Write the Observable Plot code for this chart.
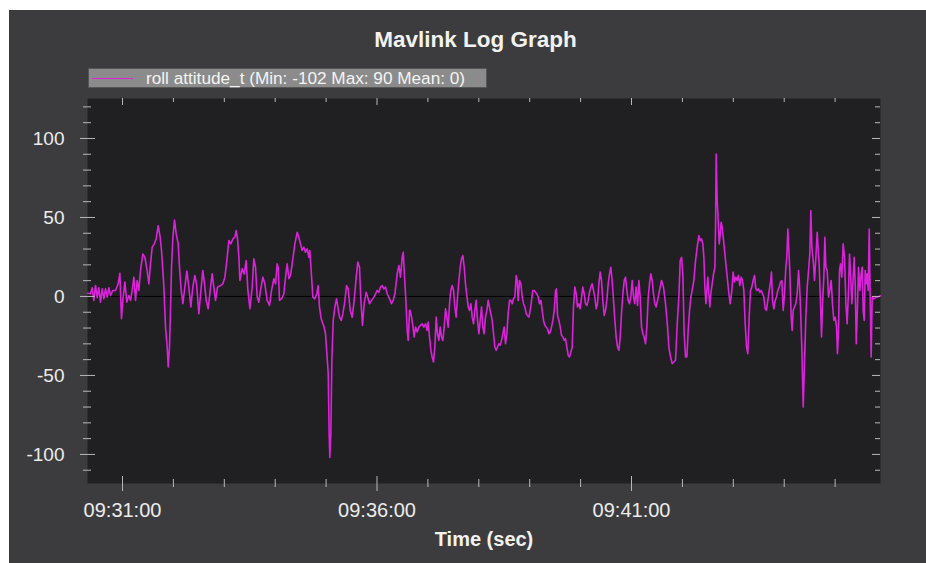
<!DOCTYPE html>
<html><head><meta charset="utf-8">
<script src="https://cdn.jsdelivr.net/npm/d3@7"></script>
<script src="https://cdn.jsdelivr.net/npm/@observablehq/plot@0.6"></script>
<style>
html,body{margin:0;padding:0;background:#fff;}
body{width:926px;height:563px;position:relative;overflow:hidden;font-family:"Liberation Sans",Arial,sans-serif;}
#bg{position:absolute;left:9px;top:10px;width:917px;height:553px;background:#3c3c3e;}
#title{position:absolute;left:17px;top:28px;width:917px;text-align:center;font-size:22.5px;font-weight:bold;line-height:24px;color:#f2f2f2;}
#legend{position:absolute;left:88px;top:68px;width:399px;height:20px;box-sizing:border-box;background:#8b8b8b;border:1px solid #555;}
#legend .swatch{position:absolute;left:3px;top:8.5px;width:41px;height:1.5px;background:#dd22dd;}
#legend .label{position:absolute;left:57px;top:0;line-height:18px;font-size:17.2px;color:#f4f4f4;white-space:nowrap;}
#chart{position:absolute;left:9px;top:90px;}
</style>
</head>
<body>
<div id="bg"></div>
<div id="title"></div>
<div id="legend"><div class="swatch"></div><div class="label"></div></div>
<div id="chart"></div>
<script>
const chartTitle = "Mavlink Log Graph";
const seriesName = "roll attitude_t";
const seriesStats = {min: -102, max: 90, mean: 0};
const xAxisLabel = "Time (sec)";
const xMajorLabels = ["09:31:00", "09:36:00", "09:41:00"];
const xMinorLabels = ["09:32:00","09:33:00","09:34:00","09:35:00","09:37:00","09:38:00","09:39:00","09:40:00","09:42:00","09:43:00","09:44:00","09:45:00"];
const yMajor = [-100, -50, 0, 50, 100];
const yMinor = [-110,-90,-80,-70,-60,-40,-30,-20,-10,10,20,30,40,60,70,80,90,110,120];
const timeStart = "09:30:00";
const xDomainSec = [18.75, 953.5];
const yDomain = [-118.4, 125.3];
// [seconds after 09:30:00, roll in degrees]
const rollSeries = [
[19.0,2.0],[22.3,1.7],[24.3,5.5],[26.2,-2.5],[28.2,6.9],[30.2,-0.8],[32.1,5.5],[34.1,-3.6],[36.1,4.8],[38.0,-1.5],[40.0,4.8],[42.0,-0.4],[43.9,5.5],[45.9,0.6],[48.6,3.8],[51.8,3.8],[54.9,8.0],[56.9,14.7],[58.8,-14.1],[60.4,-2.5],[62.8,9.1],[65.1,-3.6],[67.5,0.6],[69.5,-2.5],[71.4,3.8],[73.4,12.2],[75.4,-2.5],[77.3,10.1],[79.3,3.8],[81.2,16.4],[84.0,26.9],[86.4,24.8],[89.1,16.4],[91.1,8.0],[93.0,20.6],[95.0,31.2],[97.4,33.3],[99.7,36.4],[102.1,44.8],[104.4,37.5],[106.0,29.1],[108.8,5.9],[110.7,-19.4],[112.7,-32.0],[113.9,-44.6],[115.4,-32.0],[116.6,-8.8],[117.8,18.5],[119.4,37.5],[121.3,48.4],[123.3,39.6],[125.7,33.3],[127.2,18.5],[129.2,3.8],[131.2,-4.6],[133.5,5.9],[135.9,16.0],[138.2,5.9],[140.6,-6.7],[142.9,5.9],[145.3,13.3],[147.3,8.0],[150.0,-10.9],[152.4,3.8],[154.7,16.4],[156.7,8.0],[158.7,-2.5],[161.0,-7.8],[163.8,5.9],[165.7,14.3],[168.1,3.8],[169.7,-2.5],[172.0,5.9],[175.6,6.9],[178.3,8.0],[180.7,12.2],[183.0,22.7],[185.4,35.4],[187.7,33.3],[190.1,36.4],[192.5,37.5],[194.0,41.7],[195.6,36.4],[197.2,24.8],[198.4,10.1],[201.1,17.5],[203.5,14.3],[205.8,22.7],[207.8,3.8],[210.2,-7.8],
[212.9,5.9],[214.8,23.8],[216.8,18.5],[218.8,-0.4],[220.7,-3.6],[222.7,3.8],[225.4,12.2],[227.8,8.0],[230.5,-2.5],[233.3,-5.7],[235.7,3.8],[238.4,11.2],[240.4,8.0],[242.3,20.6],[243.5,18.5],[245.1,-2.5],[247.4,-1.5],[250.2,1.7],[252.2,12.2],[254.1,20.6],[256.1,11.2],[258.1,13.3],[260.8,23.8],[263.2,33.3],[265.9,40.6],[267.9,37.5],[269.8,33.3],[271.8,29.1],[273.8,31.2],[275.7,28.0],[277.7,30.1],[279.7,24.8],[280.8,29.1],[282.4,16.4],[284.4,-0.4],[286.7,-1.5],[289.1,1.7],[290.7,6.9],[292.2,-6.7],[294.2,-14.1],[296.2,-17.3],[297.7,-19.4],[299.3,-23.6],[300.9,-36.2],[302.5,-48.8],[303.6,-86.7],[304.4,-101.9],[305.6,-86.7],[306.8,-40.4],[308.4,-15.2],[310.3,-6.7],[312.3,-1.5],[313.9,-6.7],[315.8,-13.1],[317.8,-15.2],[319.8,-10.9],[321.7,-4.6],[324.1,6.9],[326.0,4.8],[328.4,-8.8],[330.8,-13.1],[333.1,-2.5],[335.5,12.2],[337.4,21.7],[339.4,18.5],[341.0,-2.5],[342.9,-18.3],[344.9,-4.6],[347.3,2.7],[349.6,-1.5],[351.2,-4.6],[353.6,-2.5],[356.3,-0.4],[358.3,1.7],[360.2,3.8],[362.2,2.7],[364.2,5.9],[366.1,6.9],[368.1,4.8],[370.1,5.9],[372.0,1.7],[374.8,-1.5],[377.1,-4.6],[379.1,-2.5],[381.1,1.7],[383.8,14.3],[385.8,19.6],[387.7,12.2],[389.7,24.8],[390.9,28.0],[392.5,12.2],[394.0,-2.5],[395.6,-21.5],[396.8,-27.8],[398.4,-8.8],
[399.1,-8.8],[400.7,-13.1],[402.2,-18.3],[403.8,-25.7],[405.4,-19.4],[407.4,-22.5],[409.3,-19.4],[411.3,-18.3],[413.3,-17.3],[415.2,-19.4],[417.2,-17.3],[419.1,-21.5],[420.3,-16.2],[421.9,-25.7],[423.5,-34.1],[425.0,-38.3],[426.6,-41.5],[428.2,-32.0],[429.8,-13.1],[431.3,-23.6],[432.9,-27.8],[434.5,-19.4],[436.0,-25.7],[437.6,-27.8],[439.2,-19.4],[440.8,-7.8],[442.3,-13.1],[443.9,-19.4],[445.5,-4.6],[447.0,3.8],[448.6,6.9],[450.2,3.8],[451.8,-6.7],[453.3,-13.1],[454.9,-0.4],[456.5,10.1],[458.1,18.5],[459.6,23.8],[461.2,25.9],[462.8,18.5],[464.3,8.0],[465.9,0.6],[467.5,-6.7],[469.1,-8.8],[470.6,-4.6],[472.2,-13.1],[473.8,-17.3],[475.3,-8.8],[476.9,-2.5],[478.5,-15.2],[480.1,-23.6],[481.6,-15.2],[483.2,-6.7],[484.8,-19.4],[486.3,-23.6],[487.9,-13.1],[489.5,-8.8],[491.1,-2.5],[492.6,-6.7],[494.2,-10.9],[495.8,-15.2],[497.4,-23.6],[498.9,-32.0],[500.5,-34.1],[502.1,-32.0],[503.6,-29.9],[505.2,-30.9],[506.8,-27.8],[508.4,-23.6],[509.9,-19.4],[511.5,-29.9],[513.1,-23.6],[514.6,-10.9],[516.2,-2.5],[517.8,-2.5],[519.4,-4.6],[520.9,-1.5],[522.5,-0.4],[524.1,13.3],[525.3,10.1],[526.4,-2.5],[528.0,10.1],[529.6,8.0],[531.2,-0.4],[532.7,-4.6],[534.3,-6.7],[535.9,-10.9],[537.4,-12.0],[539.0,-13.1],[540.6,-8.8],[542.2,-2.5],[543.7,3.8],[545.3,3.8],[546.9,2.7],[548.4,1.7],[550.0,-0.4],[551.6,-4.6],[553.2,-2.5],[554.7,-8.8],[556.3,-15.2],[557.9,-18.3],[559.4,-19.4],[561.0,-20.4],[562.6,-23.6],[564.2,-22.5],[565.7,-19.4],[567.3,-15.2],[568.9,-8.8],[570.5,3.8],[571.6,4.8],[572.8,-12.0],[574.4,-15.2],[576.0,-19.4],[577.5,-24.6],[579.1,-25.7],[580.7,-27.8],[582.2,-26.7],[583.8,-32.0],[585.4,-37.3],[586.9,-38.3],
[588.1,-36.2],[590.1,-32.0],[591.6,-6.7],[593.2,5.9],[594.8,1.7],[596.3,-6.7],[597.9,-4.6],[599.5,-7.8],[601.1,-0.4],[602.6,5.9],[604.2,1.7],[605.8,-4.6],[607.4,-5.7],[608.9,-2.5],[610.5,2.7],[612.1,5.9],[613.6,8.0],[615.2,3.8],[616.8,-0.4],[618.4,-7.8],[619.9,-4.6],[621.5,8.0],[623.1,15.4],[624.6,10.1],[626.2,-2.5],[627.8,-12.0],[629.4,-8.8],[630.9,-2.5],[632.5,8.0],[634.1,14.3],[635.6,18.5],[637.2,10.1],[638.8,-2.5],[640.4,-15.2],[641.9,-25.7],[643.5,-32.0],[645.1,-34.1],[646.7,-25.7],[648.2,-10.9],[649.8,1.7],[651.4,10.1],[652.9,12.2],[654.5,3.8],[656.1,-2.5],[657.7,-4.6],[659.2,-0.4],[660.8,10.1],[662.4,-0.4],[663.9,-4.6],[665.5,5.9],[667.1,-5.7],[668.7,10.1],[670.2,-0.4],[671.8,-19.4],[673.4,-23.6],[674.9,-25.7],[676.5,-29.9],[678.1,-19.4],[679.7,-0.4],[681.2,8.0],[682.8,14.3],[684.4,10.1],[685.9,1.7],[687.5,-4.6],[689.1,-6.7],[690.7,-2.5],[693.0,3.8],[695.4,10.1],[697.7,5.9],[700.1,-4.6],[702.5,-19.4],[704.0,-32.0],[706.0,-38.3],[708.0,-42.5],[709.9,-41.5],[711.9,-40.4],[713.9,-17.3],[715.8,-0.4],[717.4,22.7],[719.0,24.8],[720.5,14.3],[722.1,-23.6],[723.7,-38.3],[725.3,-38.3],[726.8,-21.5],[728.4,-8.8],[730.0,-0.4],[731.5,3.8],[733.5,10.1],[735.5,22.7],[737.4,31.2],[739.4,38.5],[741.0,35.4],[742.5,36.4],[744.1,33.3],[745.3,24.8],[746.5,5.9],[747.7,-4.6],[748.8,3.8],[750.0,12.2],[751.2,1.7],[752.4,-6.7],[753.5,1.7],[755.1,8.0],[756.7,14.3],[758.3,18.5],[759.1,45.9],[759.8,90.1],[761.0,60.6],[762.2,48.0],[763.4,33.3],[764.6,39.6],[765.7,46.9],[766.9,43.8],[768.5,35.4],[770.1,26.9],[771.6,18.5],[773.2,10.1],[774.8,1.7],[776.3,-4.6],
[778.3,3.8],[779.8,15.4],[781.4,9.1],[783.0,12.2],[784.6,10.1],[786.1,13.3],[787.7,6.9],[789.3,12.2],[790.8,10.1],[792.4,3.8],[794.0,-17.3],[795.6,-32.0],[797.1,-36.2],[798.7,-13.1],[800.3,3.8],[801.8,5.9],[803.4,10.1],[805.0,13.3],[806.6,4.8],[808.1,3.8],[809.7,4.8],[811.3,2.7],[812.8,3.8],[814.4,1.7],[816.0,-0.4],[817.6,-7.8],[819.1,-8.8],[820.7,-2.5],[822.3,3.8],[823.9,9.1],[825.0,15.4],[826.2,-2.5],[827.8,-7.8],[829.4,-2.5],[830.9,-0.4],[832.5,3.8],[834.1,5.9],[835.6,9.1],[837.2,10.1],[838.8,-8.8],[840.4,1.7],[841.9,18.5],[843.1,24.8],[844.3,42.7],[845.5,29.1],[846.6,16.4],[848.2,-13.1],[849.4,-21.5],[850.6,-8.8],[852.1,-6.7],[853.7,-4.6],[855.3,1.7],[856.9,16.4],[858.0,8.0],[859.2,-6.7],[860.8,-34.1],[862.4,-69.9],[863.9,-42.5],[865.5,-13.1],[867.1,5.9],[868.7,16.4],[870.2,26.9],[871.4,54.3],[872.6,31.2],[874.2,22.7],[875.7,10.1],[877.3,24.8],[878.9,40.6],[880.1,29.1],[881.2,20.6],[882.8,-4.6],[884.0,-25.7],[885.2,-4.6],[886.7,12.2],[887.9,37.5],[889.1,18.5],[890.7,16.4],[892.2,-0.4],[893.8,3.8],[895.4,10.1],[896.9,-4.6],[898.5,-15.2],[900.1,-13.1],[901.7,-19.4],[902.8,-36.2],[904.0,-21.5],[905.2,16.4],[906.4,20.6],[907.9,12.2],[909.5,33.3],[911.1,24.8],[912.7,-4.6],[914.2,-17.3],[915.8,3.8],[917.0,26.9],[918.2,14.3],[919.7,-4.6],[921.3,12.2],[922.5,24.8],[923.7,8.0],[924.9,-29.9],[926.0,-13.1],[927.6,18.5],[929.2,3.8],[930.7,14.3],[931.9,18.5],[933.1,-8.8],[934.3,-15.2],[935.5,16.4],[936.6,8.0],[937.8,14.3],[939.0,3.8],[940.2,42.7],[941.4,-2.5],[942.5,-38.3],[943.7,-0.4],[945.7,-1.5],[947.6,-0.8],[949.6,-0.4],[951.6,0.0],[953.5,0.4]
];

const day = "2000-01-01T";
const t0 = new Date(day + timeStart + "Z").getTime();
const toDate = s => new Date(t0 + s * 1000);
const parseT = s => new Date(day + s + "Z");
const xMajor = xMajorLabels.map(parseT);
const xMinor = xMinorLabels.map(parseT);

document.getElementById("title").textContent = chartTitle;
document.querySelector("#legend .label").textContent =
  `${seriesName} (Min: ${seriesStats.min} Max: ${seriesStats.max} Mean: ${seriesStats.mean})`;

const W = 917, H = 473, mL = 78, mR = 46, mT = 8, mB = 80;
const fw = W - mL - mR, fh = H - mT - mB;
const tickC = "#b8b8b8";
const lineC = "#dd22dd";

const chart = Plot.plot({
  width: W, height: H,
  marginLeft: mL, marginRight: mR, marginTop: mT, marginBottom: mB,
  x: {type: "utc", domain: xDomainSec.map(toDate)},
  y: {domain: yDomain},
  style: {background: "transparent", color: "#ececec", fontFamily: "'Liberation Sans', Arial, sans-serif", overflow: "visible"},
  marks: [
    Plot.frame({fill: "#202022", stroke: null}),
    Plot.ruleY([0], {stroke: "#000", strokeWidth: 1}),
    Plot.line(rollSeries, {x: d => toDate(d[0]), y: d => d[1], stroke: lineC, strokeWidth: 1.6, strokeLinejoin: "round"}),
    Plot.tickX(xMajor, {x: d => d, insetTop: fh - 7, insetBottom: -8, stroke: tickC}),
    Plot.tickX(xMinor, {x: d => d, insetTop: fh - 4, insetBottom: -4, stroke: tickC}),
    Plot.tickX(xMajor, {x: d => d, insetBottom: fh - 7, stroke: tickC}),
    Plot.tickX(xMinor, {x: d => d, insetBottom: fh - 4, stroke: tickC}),
    Plot.tickY(yMajor, {y: d => d, insetLeft: -7, insetRight: fw - 8, stroke: tickC}),
    Plot.tickY(yMinor, {y: d => d, insetLeft: -4, insetRight: fw - 4, stroke: tickC}),
    Plot.tickY(yMajor, {y: d => d, insetLeft: fw - 8, stroke: tickC}),
    Plot.tickY(yMinor, {y: d => d, insetLeft: fw - 5, stroke: tickC}),
    Plot.axisY({ticks: yMajor, tickSize: 0, tickPadding: 23, fontSize: 19, tickFormat: d => String(d), label: null}),
    Plot.axisX({ticks: xMajor, tickSize: 0, tickPadding: 19, fontSize: 20, tickFormat: d3.utcFormat("%H:%M:%S"), label: null}),
    Plot.text([xAxisLabel], {frameAnchor: "bottom", dy: 62, fontSize: 20, fontWeight: "bold", fill: "#f2f2f2"})
  ]
});
document.getElementById("chart").appendChild(chart);
</script>
</body></html>
